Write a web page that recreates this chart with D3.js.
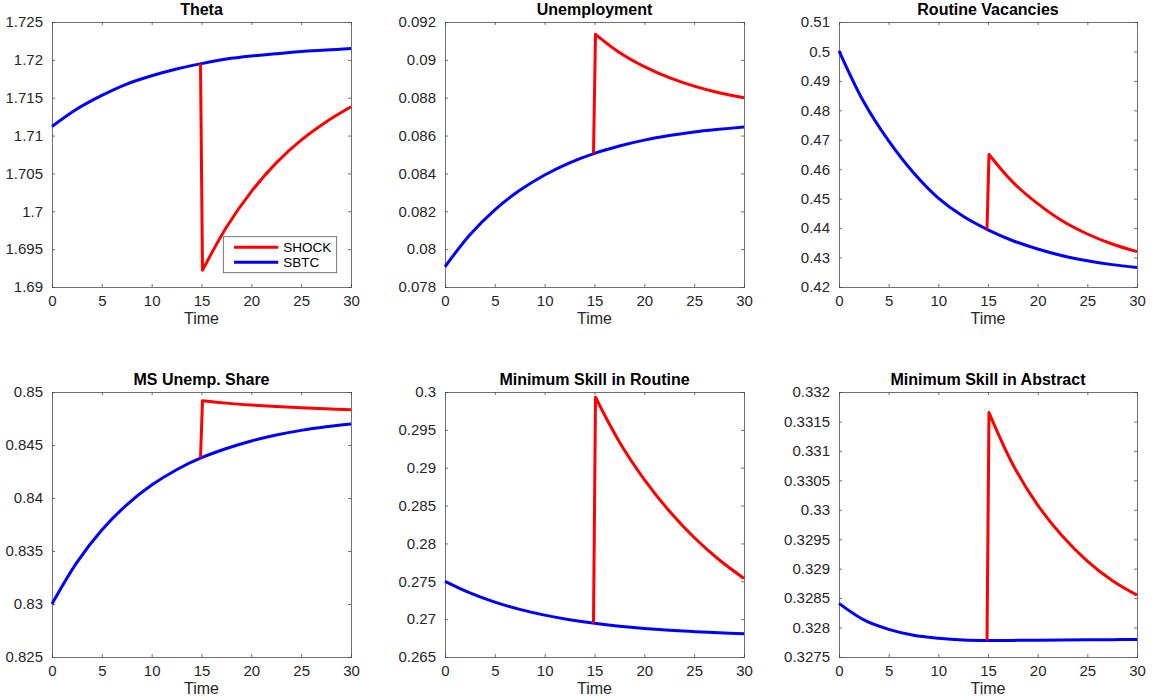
<!DOCTYPE html>
<html>
<head>
<meta charset="utf-8">
<script src="https://cdn.jsdelivr.net/npm/d3@7"></script>
<style>
    body { margin: 0; background: #fff; }
    #chart-area { width: 1153px; height: 700px; }
    text { font-family: "Liberation Sans", Arial, Helvetica, sans-serif; }
</style>
</head>
<body>
<div id="chart-area"></div>
<script>

// time grids (sbtc path sampled every 2.5 periods, shock path starts at the jump)
const timeGrid = [0, 2.5, 5, 7.5, 10, 12.5, 15, 17.5, 20, 22.5, 25, 27.5, 30];
const shockTime = [14.9, 15.1, 17.5, 20, 22.5, 25, 27.5, 30];
const timeTicks = [0, 5, 10, 15, 20, 25, 30];

// values
const thetaSbtc = [1.7112, 1.7135, 1.7153, 1.7168, 1.7179, 1.7188, 1.7195, 1.7201, 1.7205, 1.7208, 1.7211, 1.7213, 1.7215];
const thetaShock = [1.7195, 1.6922, 1.6979, 1.7026, 1.7064, 1.7094, 1.7118, 1.7138];
const thetaTicks = [1.69, 1.695, 1.7, 1.705, 1.71, 1.715, 1.72, 1.725];

const unempSbtc = [0.07907, 0.08076, 0.08208, 0.08311, 0.08392, 0.08456, 0.08506, 0.08545, 0.08576, 0.08600, 0.08619, 0.08633, 0.08645];
const unempShock = [0.08506, 0.09135, 0.09039, 0.08964, 0.08906, 0.08861, 0.08826, 0.08800];
const unempTicks = [0.078, 0.08, 0.082, 0.084, 0.086, 0.088, 0.09, 0.092];

const vacSbtc = [0.5002, 0.4828, 0.4696, 0.4588, 0.4502, 0.4440, 0.4394, 0.4357, 0.4329, 0.4306, 0.4289, 0.4276, 0.4266];
const vacShock = [0.4396, 0.4650, 0.4556, 0.4483, 0.4424, 0.4380, 0.4346, 0.4320];
const vacTicks = [0.42, 0.43, 0.44, 0.45, 0.46, 0.47, 0.48, 0.49, 0.5, 0.51];

const msSbtc = [0.8300, 0.83392, 0.83698, 0.83936, 0.84122, 0.84267, 0.8438, 0.84467, 0.84538, 0.84594, 0.84638, 0.84672, 0.84699];
const msShock = [0.8438, 0.84918, 0.84895, 0.84877, 0.84863, 0.84852, 0.84842, 0.84833];
const msTicks = [0.825, 0.83, 0.835, 0.84, 0.845, 0.85];

const routSbtc = [0.2750, 0.27347, 0.27225, 0.27129, 0.27053, 0.26993, 0.26945, 0.26907, 0.26877, 0.26853, 0.26835, 0.26820, 0.26808];
const routShock = [0.26945, 0.2993, 0.2934, 0.28844, 0.28428, 0.28078, 0.27784, 0.27537];
const routTicks = [0.265, 0.27, 0.275, 0.28, 0.285, 0.29, 0.295, 0.3];

const absSbtc = [0.32841, 0.32813, 0.32797, 0.32787, 0.32782, 0.32779, 0.32778, 0.327782, 0.327785, 0.327788, 0.327791, 0.327794, 0.327797];
const absShock = [0.32778, 0.33165, 0.33077, 0.33008, 0.32955, 0.32913, 0.3288, 0.32855];
const absTicks = [0.3275, 0.328, 0.3285, 0.329, 0.3295, 0.33, 0.3305, 0.331, 0.3315, 0.332];

const seriesNames = ["SHOCK", "SBTC"];
const seriesColors = ["#ff0000", "#0000ff"];

class IrfPanel {

    constructor(svg, box, title, sbtc, shock, yTicks, showLegend) {
        this.svg = svg;
        this.box = box;
        this.title = title;
        this.sbtc = sbtc;
        this.shock = shock;
        this.yTicks = yTicks;
        this.showLegend = showLegend;

        this.initVis();
    }

    initVis() {
        let vis = this;

        vis.width = vis.box.right - vis.box.left;
        vis.height = vis.box.bottom - vis.box.top;

        vis.g = vis.svg.append("g")
            .attr("transform", "translate(" + vis.box.left + "," + vis.box.top + ")");

        vis.x = d3.scaleLinear()
            .domain([0, 30])
            .range([0, vis.width]);

        vis.y = d3.scaleLinear()
            .domain(d3.extent(vis.yTicks))
            .range([vis.height, 0]);

        // matlab style: ticks inside, on all four sides
        let fmt = d => String(+d.toFixed(6));

        vis.g.append("g")
            .attr("class", "axis")
            .attr("transform", "translate(0," + vis.height + ")")
            .call(d3.axisBottom(vis.x).tickValues(timeTicks).tickSize(-3).tickPadding(8).tickFormat(fmt));
        vis.g.append("g")
            .attr("class", "axis")
            .call(d3.axisTop(vis.x).tickValues(timeTicks).tickSize(-3).tickFormat(""));
        vis.g.append("g")
            .attr("class", "axis")
            .call(d3.axisLeft(vis.y).tickValues(vis.yTicks).tickSize(-3).tickPadding(9).tickFormat(fmt));
        vis.g.append("g")
            .attr("class", "axis")
            .attr("transform", "translate(" + vis.width + ",0)")
            .call(d3.axisRight(vis.y).tickValues(vis.yTicks).tickSize(-3).tickFormat(""));

        vis.g.selectAll(".axis path")
            .attr("stroke", "#4d4d4d")
            .attr("stroke-width", 0.8);
        vis.g.selectAll(".axis line")
            .attr("stroke", "#4d4d4d")
            .attr("stroke-width", 0.8);
        vis.g.selectAll(".axis text")
            .attr("fill", "#262626")
            .attr("font-size", 15)
            .attr("font-family", "Liberation Sans, Arial, sans-serif");

        // title and x label
        vis.g.append("text")
            .attr("x", vis.width / 2)
            .attr("y", -7)
            .attr("text-anchor", "middle")
            .attr("font-size", 16)
            .attr("font-weight", "bold")
            .attr("fill", "#000")
            .text(vis.title);

        vis.g.append("text")
            .attr("x", vis.width / 2)
            .attr("y", vis.height + 36.5)
            .attr("text-anchor", "middle")
            .attr("font-size", 16)
            .attr("fill", "#262626")
            .text("Time");

        vis.wrangleData();
    }

    wrangleData() {
        let vis = this;

        vis.sbtcData = timeGrid.map((t, i) => ({ t: t, v: vis.sbtc[i] }));
        vis.shockData = shockTime.map((t, i) => ({ t: t, v: vis.shock[i] }));

        vis.updateVis();
    }

    updateVis() {
        let vis = this;

        let smooth = d3.line()
            .x(d => vis.x(d.t))
            .y(d => vis.y(d.v))
            .curve(d3.curveCatmullRom.alpha(0.5));

        vis.g.append("path")
            .datum(vis.sbtcData)
            .attr("fill", "none")
            .attr("stroke", seriesColors[1])
            .attr("stroke-width", 3)
            .attr("d", smooth);

        // jump is a straight segment, the decay after it is smooth
        let jump = vis.shockData[0];
        let decay = smooth(vis.shockData.slice(1)).replace(/^M/, "L");

        vis.g.append("path")
            .attr("fill", "none")
            .attr("stroke", seriesColors[0])
            .attr("stroke-width", 3)
            .attr("stroke-linejoin", "round")
            .attr("d", "M" + vis.x(jump.t) + "," + vis.y(jump.v) + decay);

        if (vis.showLegend) {
            let lg = vis.g.append("g")
                .attr("transform", "translate(" + (vis.width - 127.7) + "," + (vis.height - 50.3) + ")");

            lg.append("rect")
                .attr("width", 113.4)
                .attr("height", 36)
                .attr("fill", "#fff")
                .attr("stroke", "#555")
                .attr("stroke-width", 0.8);

            let items = lg.selectAll(".legend-item")
                .data(seriesNames)
                .enter()
                .append("g")
                .attr("class", "legend-item")
                .attr("transform", (d, i) => "translate(0," + (10.6 + i * 15) + ")");

            items.append("line")
                .attr("x1", 10.7)
                .attr("x2", 55)
                .attr("stroke", (d, i) => seriesColors[i])
                .attr("stroke-width", 3);

            items.append("text")
                .attr("x", 60)
                .attr("dy", "0.35em")
                .attr("font-size", 13.5)
                .attr("fill", "#000")
                .text(d => d);
        }
    }
}

let svg = d3.select("#chart-area").append("svg")
    .attr("width", 1153)
    .attr("height", 700);

let cols = [[52, 351], [445, 744], [839, 1137]];
let rows = [[22, 287], [392, 657]];
let box = (r, c) => ({ left: cols[c][0], right: cols[c][1], top: rows[r][0], bottom: rows[r][1] });

new IrfPanel(svg, box(0, 0), "Theta", thetaSbtc, thetaShock, thetaTicks, true);
new IrfPanel(svg, box(0, 1), "Unemployment", unempSbtc, unempShock, unempTicks, false);
new IrfPanel(svg, box(0, 2), "Routine Vacancies", vacSbtc, vacShock, vacTicks, false);
new IrfPanel(svg, box(1, 0), "MS Unemp. Share", msSbtc, msShock, msTicks, false);
new IrfPanel(svg, box(1, 1), "Minimum Skill in Routine", routSbtc, routShock, routTicks, false);
new IrfPanel(svg, box(1, 2), "Minimum Skill in Abstract", absSbtc, absShock, absTicks, false);

</script>
</body>
</html>
